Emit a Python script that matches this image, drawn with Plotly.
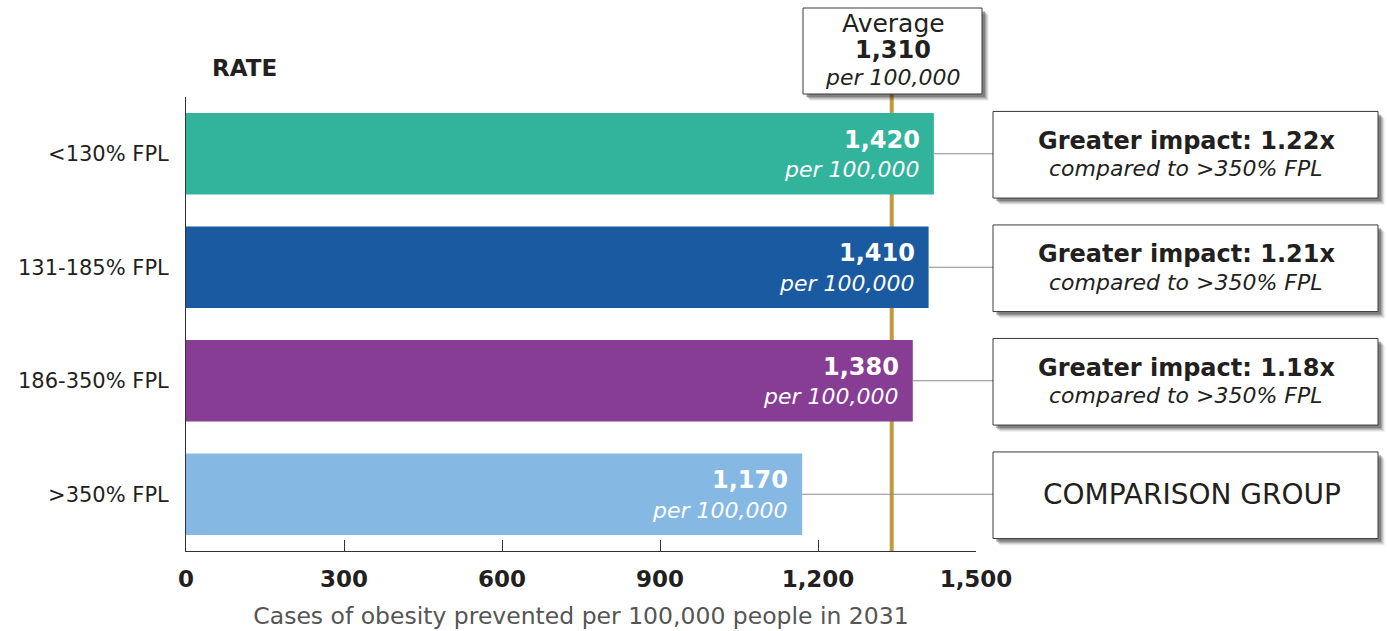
import plotly.graph_objects as go

categories = ["<130% FPL", "131-185% FPL", "186-350% FPL", ">350% FPL"]
values = [1420, 1410, 1380, 1170]
value_labels = ["1,420", "1,410", "1,380", "1,170"]
bar_colors = ["#32B39B", "#1A5AA0", "#883D95", "#85B8E2"]
impact_labels = ["Greater impact: 1.22x", "Greater impact: 1.21x", "Greater impact: 1.18x", None]
tick_vals = [0, 300, 600, 900, 1200, 1500]
tick_text = ["0", "300", "600", "900", "1,200", "1,500"]
average_label = "1,310"
average_line_x = 1340  # where the average marker line sits on the axis in the picture

FONT = "DejaVu Sans, sans-serif"
DARK = "#231F20"
W, H = 1387, 631
L, R, T, B = 186, 976, 97, 551
XMAX = 1500


def px_x(p):
    return (p - L) / (R - L)


def px_y(p):
    return (B - p) / (B - T)


def cat_y(i):
    return 1 - (i + 0.5) / len(categories)


fig = go.Figure()
fig.add_trace(go.Bar(
    y=categories, x=values, orientation="h", width=0.72,
    marker=dict(color=bar_colors, line=dict(width=0)),
    hoverinfo="skip",
))

shapes = []
annotations = []


def txt(x, y, text, size, color=DARK, **kw):
    d = dict(xref="paper", yref="paper", x=x, y=y, text=text, showarrow=False,
             xanchor="center", yanchor="middle",
             font=dict(size=size, color=color, family=FONT))
    d.update(kw)
    return d


# average line (behind bars)
shapes.append(dict(type="line", xref="paper", yref="paper",
                   x0=average_line_x / XMAX, x1=average_line_x / XMAX,
                   y0=0, y1=px_y(94), line=dict(color="#C39A3B", width=4), layer="below"))


def shadowed_box(x0, y0, x1, y1):
    # pixel coordinates -> shapes with a soft shadow
    for off, op in [(7, 0.06), (6, 0.1), (5, 0.14), (4, 0.2), (3, 0.28)]:
        shapes.append(dict(type="rect", xref="paper", yref="paper",
                           x0=px_x(x0 + off), x1=px_x(x1 + off),
                           y0=px_y(y1 + off), y1=px_y(y0 + off),
                           fillcolor=f"rgba(40,40,40,{op})", line=dict(width=0)))
    shapes.append(dict(type="rect", xref="paper", yref="paper",
                       x0=px_x(x0), x1=px_x(x1), y0=px_y(y1), y1=px_y(y0),
                       fillcolor="white", line=dict(color="#3a3a3a", width=1)))


# average box
shadowed_box(803, 8, 982, 94)
annotations += [
    txt(px_x(893), px_y(24), "Average", 25),
    txt(px_x(893), px_y(50), "<b>" + average_label + "</b>", 24),
    txt(px_x(893), px_y(77), "<i>per 100,000</i>", 22),
]

BOX_H = 86.6
for i, (v, lab, imp) in enumerate(zip(values, value_labels, impact_labels)):
    cy = cat_y(i)
    cy_px = B - cy * (B - T)
    # connector from bar end to box
    shapes.append(dict(type="line", xref="paper", yref="paper",
                       x0=v / XMAX, x1=px_x(993), y0=cy, y1=cy,
                       line=dict(color="#8a8a8a", width=1)))
    bx_top = cy_px + 1 - BOX_H / 2
    shadowed_box(993, bx_top, 1378, bx_top + BOX_H)
    # bar text
    annotations.append(dict(x=v, y=categories[i], xref="x", yref="y", xanchor="right",
                            yanchor="middle", xshift=-12, yshift=14, showarrow=False,
                            text="<b>" + lab + "</b>",
                            font=dict(size=24, color="white", family=FONT)))
    annotations.append(dict(x=v, y=categories[i], xref="x", yref="y", xanchor="right",
                            yanchor="middle", xshift=-12, yshift=-16, showarrow=False,
                            text="<i>per 100,000</i>",
                            font=dict(size=22, color="white", family=FONT)))
    bcx = px_x(1186)
    if imp:
        annotations.append(txt(bcx, px_y(cy_px - 13), "<b>" + imp + "</b>", 24))
        annotations.append(txt(bcx, px_y(cy_px + 15), "<i>compared to >350% FPL</i>", 22))
    else:
        annotations.append(txt(px_x(1192), px_y(cy_px), "COMPARISON GROUP", 28))

annotations.append(txt(px_x(244), px_y(68), "<b>RATE</b>", 23))

fig.update_layout(
    width=W, height=H,
    margin=dict(l=L, r=W - R, t=T, b=H - B, autoexpand=False),
    paper_bgcolor="white", plot_bgcolor="white",
    showlegend=False, bargap=0.28,
    shapes=shapes, annotations=annotations,
    xaxis=dict(range=[0, XMAX], tickvals=tick_vals, ticktext=tick_text,
               showgrid=False, zeroline=False, showline=True, linecolor="#333", linewidth=1,
               ticks="inside", ticklen=11, tickcolor="#333", tickwidth=1,
               ticklabelstandoff=7,
               tickfont=dict(size=23, color=DARK, family=FONT, weight="bold"),
               title=dict(text="Cases of obesity prevented per 100,000 people in 2031",
                          font=dict(size=23.5, color="#555555", family=FONT), standoff=16)),
    yaxis=dict(type="category", categoryorder="array", categoryarray=categories,
               range=[len(categories) - 0.5, -0.5],
               showgrid=False, zeroline=False, showline=True, linecolor="#333", linewidth=1,
               ticks="", ticklabelstandoff=12,
               tickfont=dict(size=21, color=DARK, family=FONT)),
)

fig.write_html("out.html", config={"displayModeBar": False},
               post_script="document.body.style.margin='0';")
